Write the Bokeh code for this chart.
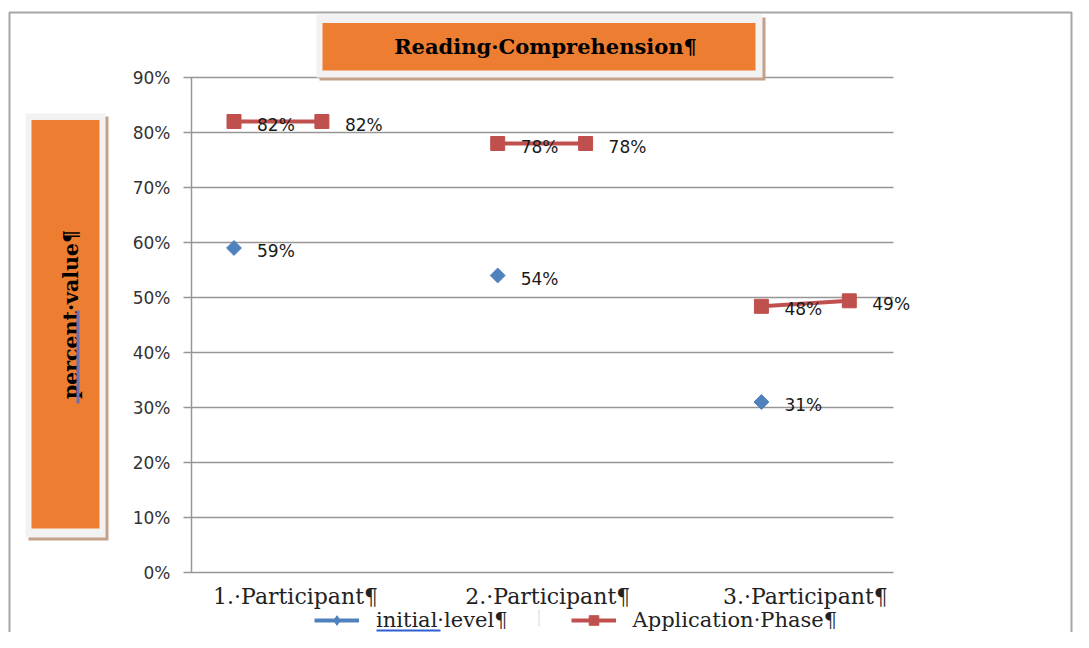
import math
from bokeh.plotting import figure
from bokeh.models import (ColumnDataSource, BoxAnnotation, Label, Legend, LegendItem, Range1d)
from bokeh.core.properties import value
from bokeh.embed import file_html
from bokeh.resources import INLINE

nan = float("nan")

# ---- data ----
slots = [0, 1, 2, 3, 4, 5, 6, 7]
initial_level = [59, nan, nan, 54, nan, nan, 31, nan]
application_phase = [82, 82, nan, 78, 78, nan, 48.4, 49.4]
participant_labels = ["1.·Participant¶", "2.·Participant¶", "3.·Participant¶"]
participant_label_pos = [0.70, 3.57, 6.50]
y_ticks = [0, 10, 20, 30, 40, 50, 60, 70, 80, 90]
title_text = "Reading·Comprehension¶"
y_title_text = "percent·value¶"
legend_labels = ["initial·level¶", "Application·Phase¶"]

BLUE = "#4F81BD"
RED = "#C0504D"
ORANGE = "#ED7D31"
GRID = "#969696"
SERIF = "DejaVu Serif"
SANS = "DejaVu Sans"

# ---- canvas / scale geometry ----
W, H = 1073, 632
SLOT0_PX, SLOT_PX = 233.5, 87.9      # pixel of slot 0 and pixels per slot
ZERO_PX, PCT_PX = 572.0, 5.5         # pixel of 0 % and pixels per percent
PLOT_L, AXIS_X, PLOT_R = 183, 191, 893


def px2x(px):
    return (px - SLOT0_PX) / SLOT_PX


def px2y(py):
    return (ZERO_PX - py) / PCT_PX


p = figure(width=W, height=H, output_backend="svg", toolbar_location=None, title=None,
           x_axis_type=None, y_axis_type=None,
           x_range=Range1d(px2x(0), px2x(W)), y_range=Range1d(px2y(H), px2y(0)),
           min_border=0, min_border_left=0, min_border_right=0,
           min_border_top=0, min_border_bottom=0)
p.outline_line_color = None
p.background_fill_color = "white"
p.border_fill_color = "white"

# ---- value axis: gridlines with outside ticks, axis line, tick labels ----
n = len(y_ticks)
p.segment(x0=[px2x(PLOT_L)] * n, x1=[px2x(PLOT_R)] * n, y0=y_ticks, y1=y_ticks,
          line_color=GRID, line_width=1.5)
p.segment(x0=[px2x(AXIS_X)], x1=[px2x(AXIS_X)], y0=[y_ticks[0]], y1=[y_ticks[-1]],
          line_color=GRID, line_width=1.5)
p.text(x=[px2x(170)] * n, y=y_ticks, text=["%d%%" % t for t in y_ticks],
       text_font=value(SANS), text_font_size="17px", text_color="#333333",
       text_align="right", text_baseline="middle")

# ---- category labels ----
p.text(x=participant_label_pos, y=[px2y(596)] * len(participant_label_pos), text=participant_labels,
       text_font=value(SERIF), text_font_size="22px", text_color="#222222",
       text_align="center", text_baseline="middle")

# ---- series ----
src_init = ColumnDataSource(dict(x=slots, y=initial_level))
src_app = ColumnDataSource(dict(x=slots, y=application_phase))

l_init = p.line("x", "y", source=src_init, line_color=BLUE, line_width=4)
s_init = p.scatter("x", "y", source=src_init, marker="square", angle=math.pi / 4, size=10.5,
                   fill_color=BLUE, line_color=BLUE)
l_app = p.line("x", "y", source=src_app, line_color=RED, line_width=4)
s_app = p.scatter("x", "y", source=src_app, marker="square", size=14, fill_color=RED, line_color=RED)

# legend-only diamond glyph (no visible data)
s_init_leg = p.scatter(x=[nan], y=[nan], marker="diamond", size=17, fill_color=BLUE, line_color=BLUE)


def lab_source(xs, ys):
    xx, yy, tt = [], [], []
    for a, b in zip(xs, ys):
        if b == b:
            xx.append(a)
            yy.append(b)
            tt.append("%d%%" % round(b - 0.01))
    return ColumnDataSource(dict(x=xx, y=yy, t=tt))


for src in (lab_source(slots, initial_level), lab_source(slots, application_phase)):
    p.text("x", "y", text="t", source=src, x_offset=23, y_offset=3,
           text_font=value(SANS), text_font_size="17px", text_color="#1a1a1a",
           text_align="left", text_baseline="middle")

# ---- legend ----
legend = Legend(items=[LegendItem(label=legend_labels[0], renderers=[l_init, s_init_leg]),
                       LegendItem(label=legend_labels[1], renderers=[l_app, s_app])],
                orientation="horizontal", location=(314, 0),
                background_fill_alpha=0, border_line_alpha=0, padding=0, margin=0,
                spacing=63, glyph_width=45, glyph_height=24, label_height=24,
                label_standoff=17, label_text_font=SERIF, label_text_font_size="21px",
                label_text_color="#222222")
p.add_layout(legend)


def box(l, r, t, b, fill=None, line=None, lw=1):
    ba = BoxAnnotation(left=l, right=r, top=t, bottom=b,
                       left_units="canvas", right_units="canvas",
                       top_units="canvas", bottom_units="canvas",
                       fill_color=fill if fill else "white", fill_alpha=1 if fill else 0,
                       line_color=line if line else "white", line_width=lw,
                       line_alpha=1 if line else 0)
    p.add_layout(ba)
    return ba


# outer border
box(9, 1071, 12, 700, fill=None, line="#A6A6A6", lw=2)

# title box (shadow, light frame, orange box, text)
box(319, 765, 17, 80, fill="#C4A08A")
box(316, 762, 14, 77, fill="#F2F2F2")
box(322, 755, 22.5, 70, fill=ORANGE)
p.add_layout(Label(x=545, y=46, x_units="canvas", y_units="canvas", text=title_text,
                   text_align="center", text_baseline="middle", text_font=SERIF,
                   text_font_style="bold", text_font_size="21px", text_color="black"))

# value-axis title box
box(28, 108, 116, 540, fill="#C4A08A")
box(25, 105, 113, 537, fill="#F2F2F2")
box(31, 99, 119.5, 528, fill=ORANGE)
p.add_layout(Label(x=70, y=314, x_units="canvas", y_units="canvas", text=y_title_text,
                   angle=math.pi / 2, text_align="center", text_baseline="middle",
                   text_font=SERIF, text_font_style="bold", text_font_size="20.5px",
                   text_color="black"))
box(76, 79, 310, 403, fill="#6A70B8")

# legend separator and spell-check underline
box(538, 539, 609, 626, fill="#D8D8D8")
box(376, 440, 629, 631, fill="#2F5FD0")

open("out.html", "w").write(file_html(p, INLINE))
